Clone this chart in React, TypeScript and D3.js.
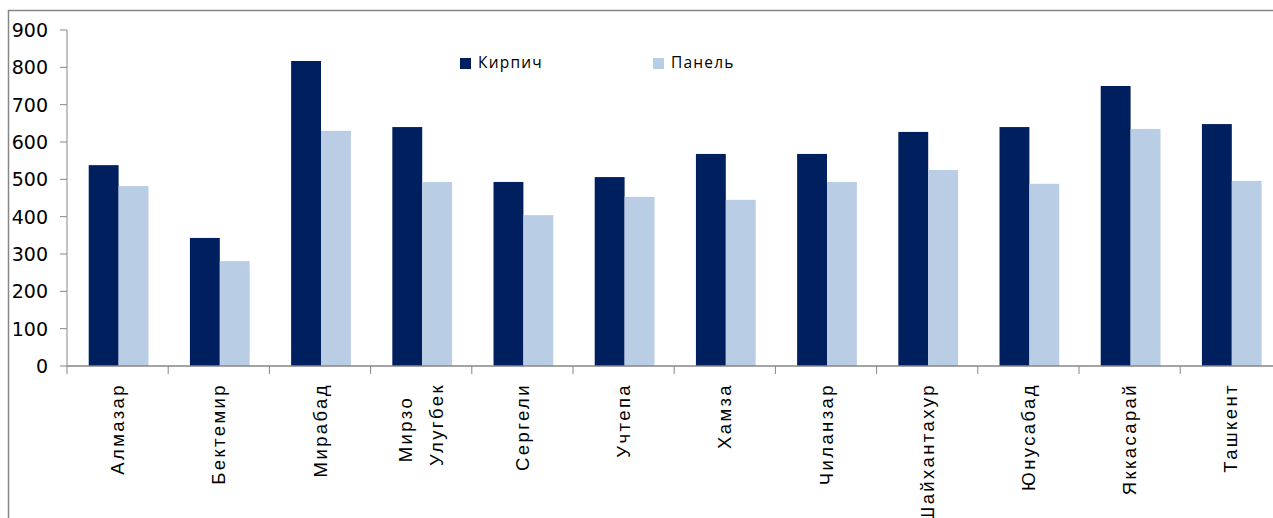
import React from "react";
import * as d3 from "d3";

// Districts of Tashkent (line breaks mark two-line axis labels)
const districts = [
  "Алмазар",
  "Бектемир",
  "Мирабад",
  "Мирзо\nУлугбек",
  "Сергели",
  "Учтепа",
  "Хамза",
  "Чиланзар",
  "Шайхантахур",
  "Юнусабад",
  "Яккасарай",
  "Ташкент",
];

const seriesNames = ["Кирпич", "Панель"];
const brickValues = [538, 343, 817, 640, 493, 506, 568, 568, 627, 640, 750, 648];
const panelValues = [482, 281, 630, 493, 404, 453, 445, 493, 525, 488, 635, 496];
const yTicks = [0, 100, 200, 300, 400, 500, 600, 700, 800, 900];

const colors = ["#001F5F", "#B9CDE5"];
const axisGray = "#868686";

const W = 1273;
const H = 518;
const plotLeft = 67;
const plotTop = 30;
const plotBottom = 366;
const step = 101.2;

export default function App() {
  const x = d3
    .scaleBand<string>()
    .domain(districts)
    .range([plotLeft, plotLeft + step * districts.length])
    .paddingInner(0)
    .paddingOuter(0);
  const xInner = d3
    .scaleBand<string>()
    .domain(seriesNames)
    .range([2, x.bandwidth()])
    .paddingInner(0)
    .paddingOuter(0.66);
  const y = d3.scaleLinear().domain([0, 900]).range([plotBottom, plotTop]);

  const series = [brickValues, panelValues];

  return (
    <svg
      width={W}
      height={H}
      style={{ position: "absolute", left: 0, top: 0, background: "#fff" }}
    >
      {/* chart frame */}
      <rect
        x={8.5}
        y={10.5}
        width={W + 20}
        height={H + 20}
        fill="none"
        stroke={axisGray}
        strokeWidth={1.5}
      />

      {/* bars */}
      {series.map((vals, si) =>
        vals.map((v, i) => (
          <rect
            key={`${si}-${i}`}
            x={(x(districts[i]) as number) + (xInner(seriesNames[si]) as number)}
            y={y(v)}
            width={xInner.bandwidth()}
            height={y(0) - y(v)}
            fill={colors[si]}
          />
        ))
      )}

      {/* y axis */}
      <line x1={plotLeft} x2={plotLeft} y1={plotTop} y2={plotBottom} stroke={axisGray} strokeWidth={1} />
      {yTicks.map((t) => (
        <g key={t}>
          <line x1={plotLeft - 7} x2={plotLeft} y1={y(t)} y2={y(t)} stroke={axisGray} strokeWidth={1} />
          <text
            x={48}
            y={y(t)}
            dy="0.36em"
            textAnchor="end"
            fontFamily="DejaVu Sans"
            fontSize={19}
            fill="#000"
          >
            {t}
          </text>
        </g>
      ))}

      {/* x axis */}
      <line
        x1={plotLeft}
        x2={plotLeft + step * districts.length}
        y1={plotBottom}
        y2={plotBottom}
        stroke={axisGray}
        strokeWidth={1.5}
      />
      {d3.range(districts.length + 1).map((i) => {
        const tx = plotLeft + i * step;
        return (
          <line key={i} x1={tx} x2={tx} y1={plotBottom} y2={plotBottom + 8} stroke={axisGray} strokeWidth={1} />
        );
      })}

      {/* category labels, rotated */}
      {districts.map((d) => {
        const cx = (x(d) as number) + x.bandwidth() / 2;
        const lines = d.split("\n");
        const lineGap = 31;
        return (
          <g key={d} transform={`translate(${cx},383) rotate(-90)`}>
            {lines.map((ln, li) => {
              const off = (li - (lines.length - 1) / 2) * lineGap;
              return (
                <text
                  key={ln}
                  x={0}
                  y={off}
                  dy="0.36em"
                  textAnchor={lines.length > 1 && li === 0 ? "middle" : "end"}
                  dx={lines.length > 1 && li === 0 ? -46 : 0}
                  fontFamily="Liberation Sans"
                  fontSize={18.5}
                  letterSpacing={2.4}
                  fill="#000"
                >
                  {ln}
                </text>
              );
            })}
          </g>
        );
      })}

      {/* legend */}
      {seriesNames.map((n, i) => {
        const lx = [460, 653][i];
        return (
          <g key={n}>
            <rect x={lx} y={58} width={11} height={11} fill={colors[i]} />
            <text
              x={lx + 18}
              y={68}
              fontFamily="Open Sans"
              fontSize={15.5}
              letterSpacing={1.2}
              fill="#000"
            >
              {n}
            </text>
          </g>
        );
      })}
    </svg>
  );
}
